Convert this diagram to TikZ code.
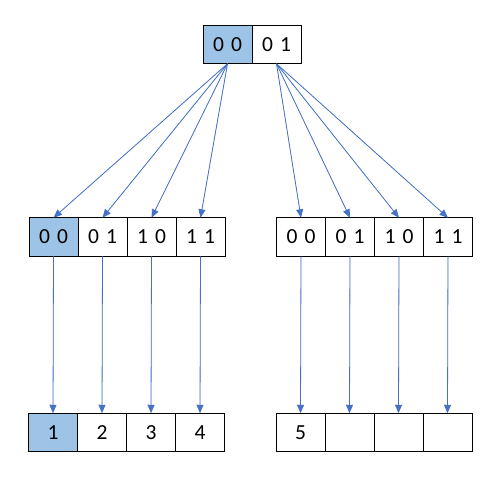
\documentclass[tikz,border=0pt]{standalone}
\usepackage{fontspec}
\setmainfont{Carlito}
\usetikzlibrary{arrows.meta,positioning}
\definecolor{cellblue}{RGB}{157,195,230}
\definecolor{arrowblue}{RGB}{68,114,196}
\tikzset{
    tablecell/.style={draw, line width=0.9pt, minimum width=49pt, minimum height=38.5pt, inner sep=0pt, outer sep=0pt, font=\fontsize{21.5}{24}\selectfont},
    markedcell/.style={tablecell, fill=cellblue},
    pointerarrow/.style={-{Triangle[length=8.5pt, width=7pt]}, draw=arrowblue, fill=arrowblue, line width=0.8pt}
}
\begin{document}
\begin{tikzpicture}[x=1pt, y=-1pt]
        \useasboundingbox (0,0) rectangle (501,480);
        % top directory
        \node[markedcell] (t0) at (227.5,44.5) {0\,\,0};
        \node[tablecell, right=0pt of t0] (t1) {0\,\,1};
        % second level, left
        \node[markedcell] (l0) at (53.5,237) {0\,\,0};
        \node[tablecell, right=0pt of l0] (l1) {0\,\,1};
        \node[tablecell, right=0pt of l1] (l2) {1\,\,0};
        \node[tablecell, right=0pt of l2] (l3) {1\,\,1};
        % second level, right
        \node[tablecell] (r0) at (301,237) {0\,\,0};
        \node[tablecell, right=0pt of r0] (r1) {0\,\,1};
        \node[tablecell, right=0pt of r1] (r2) {1\,\,0};
        \node[tablecell, right=0pt of r2] (r3) {1\,\,1};
        % leaves
        \node[markedcell] (a0) at (53,432.5) {1};
        \node[tablecell, right=0pt of a0] (a1) {2};
        \node[tablecell, right=0pt of a1] (a2) {3};
        \node[tablecell, right=0pt of a2] (a3) {4};
        \node[tablecell] (b0) at (300.5,432.5) {5};
        \node[tablecell, right=0pt of b0] (b1) {};
        \node[tablecell, right=0pt of b1] (b2) {};
        \node[tablecell, right=0pt of b2] (b3) {};
        % pointers
        \draw[pointerarrow] (t0.south) -- (l0.north);
        \draw[pointerarrow] (t0.south) -- (l1.north);
        \draw[pointerarrow] (t0.south) -- (l2.north);
        \draw[pointerarrow] (t0.south) -- (l3.north);
        \draw[pointerarrow] (t1.south) -- (r0.north);
        \draw[pointerarrow] (t1.south) -- (r1.north);
        \draw[pointerarrow] (t1.south) -- (r2.north);
        \draw[pointerarrow] (t1.south) -- (r3.north);
        \draw[pointerarrow] (l0.south) -- (a0.north);
        \draw[pointerarrow] (l1.south) -- (a1.north);
        \draw[pointerarrow] (l2.south) -- (a2.north);
        \draw[pointerarrow] (l3.south) -- (a3.north);
        \draw[pointerarrow] (r0.south) -- (b0.north);
        \draw[pointerarrow] (r1.south) -- (b1.north);
        \draw[pointerarrow] (r2.south) -- (b2.north);
        \draw[pointerarrow] (r3.south) -- (b3.north);
    \end{tikzpicture}
\end{document}
